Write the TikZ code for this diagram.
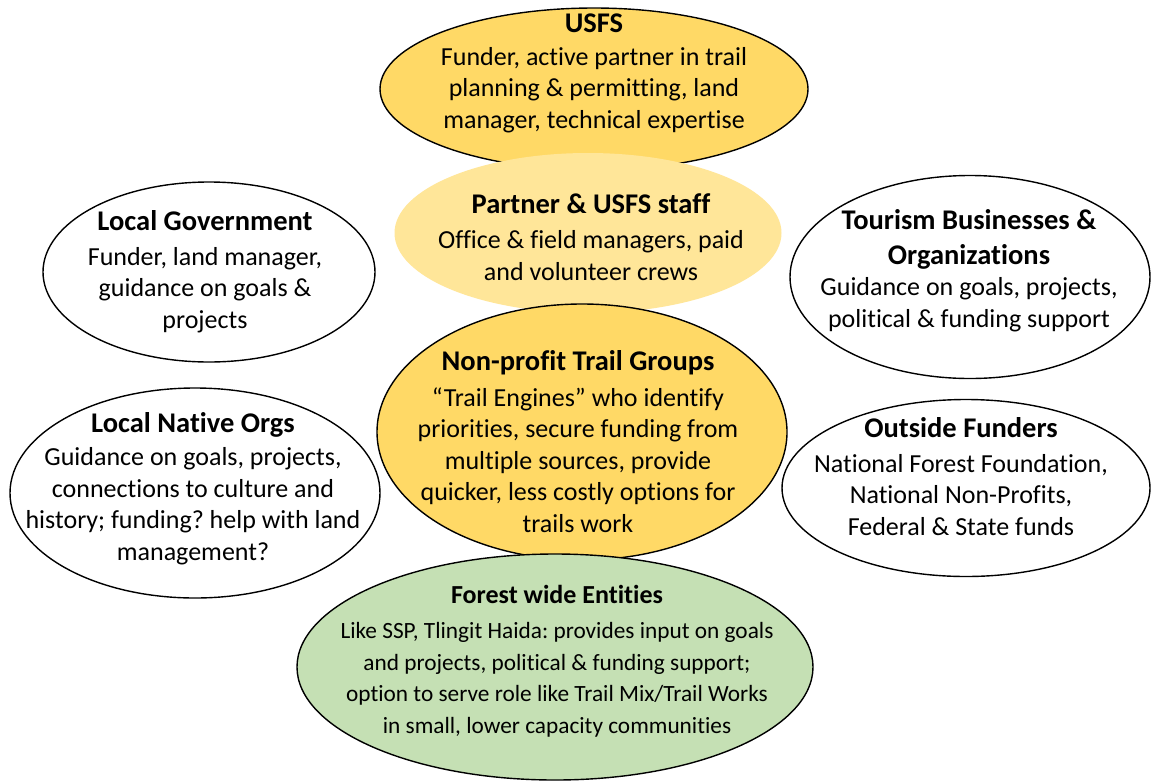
\documentclass[tikz,border=0pt]{standalone}
\usepackage{fontspec}
\setmainfont{Carlito}[Ligatures=NoCommon]
\usetikzlibrary{shapes.geometric}
\definecolor{gold}{HTML}{FFD966}
\definecolor{paleGold}{HTML}{FFE699}
\definecolor{sage}{HTML}{C5E0B4}
\newcommand\hd[1]{{\fontsize{28.5}{31.5}\selectfont\bfseries #1}}
\frenchspacing

\begin{document}
\begin{tikzpicture}[x=1pt,y=-1pt,
  blob/.style={ellipse,draw=black,line width=1.4pt,fill=white,inner sep=0pt},
  txt/.style={align=center,anchor=base,inner sep=0pt,font=\fontsize{26}{31.5}\selectfont}]
  \useasboundingbox[fill=white] (0,0) rectangle (1153,782);

  % groups on the left and right
  \node[blob,minimum width=332,minimum height=180] (gov) at (209,272) {};
  \node[blob,minimum width=370,minimum height=210] (native) at (195,493) {};
  \node[blob,minimum width=360,minimum height=203] (tourism) at (970,277) {};
  \node[blob,minimum width=368,minimum height=177] (funders) at (966,488) {};

  % middle column, top to bottom
  \node[blob,fill=gold,minimum width=428,minimum height=162] (usfs) at (594,89) {};
  \node[ellipse,fill=paleGold,inner sep=0pt,minimum width=387,minimum height=160] (staff) at (588,233) {};
  \node[blob,fill=gold,minimum width=410,minimum height=256] (trail) at (582,432) {};
  \node[blob,fill=sage,minimum width=516,minimum height=226] (forest) at (555,667) {};

  % texts, placed by the baseline of their last line
  \node[txt] (usfstxt) at (594,128) {\hd{USFS}\\[1pt]
    Funder, active partner in trail\\ planning \& permitting, land\\ manager, technical expertise};
  \node[txt] (stafftxt) at (591,280) {\hd{Partner \& USFS staff}\\[4pt]
    Office \& field managers, paid\\ and volunteer crews};
  \node[txt] (trailtxt) at (578,532) {\hd{Non-profit Trail Groups}\\[4pt]
    “Trail Engines” who identify\\ priorities, secure funding from\\ multiple sources, provide\\
    quicker, less costly options for\\ trails work};
  \node[txt,font=\fontsize{23.3}{31.5}\selectfont] (foresttxt) at (557,733)
    {{\fontsize{26}{31.5}\selectfont\bfseries Forest wide Entities}\\[4pt]
    Like SSP, Tlingit Haida: provides input on goals\\ and projects, political \& funding support;\\
    option to serve role like Trail Mix/Trail Works\\ in small, lower capacity communities};
  \node[txt] (govtxt) at (205,328) {\hd{Local Government}\\[3pt]
    Funder, land manager,\\ guidance on goals \&\\ projects};
  \node[txt] (nativetxt) at (193,560) {\hd{Local Native Orgs}\\[2pt]
    Guidance on goals, projects,\\ connections to culture and\\ history; funding? help with land\\ management?};
  \node[txt] (tourismtxt) at (969,327) {\hd{Tourism Businesses \&}\\[3pt]
    \hd{Organizations}\\ Guidance on goals, projects,\\ political \& funding support};
  \node[txt] (funderstxt) at (961,535) {\hd{Outside Funders}\\[3pt]
    National Forest Foundation,\\ National Non-Profits,\\ Federal \& State funds};
\end{tikzpicture}
\end{document}
